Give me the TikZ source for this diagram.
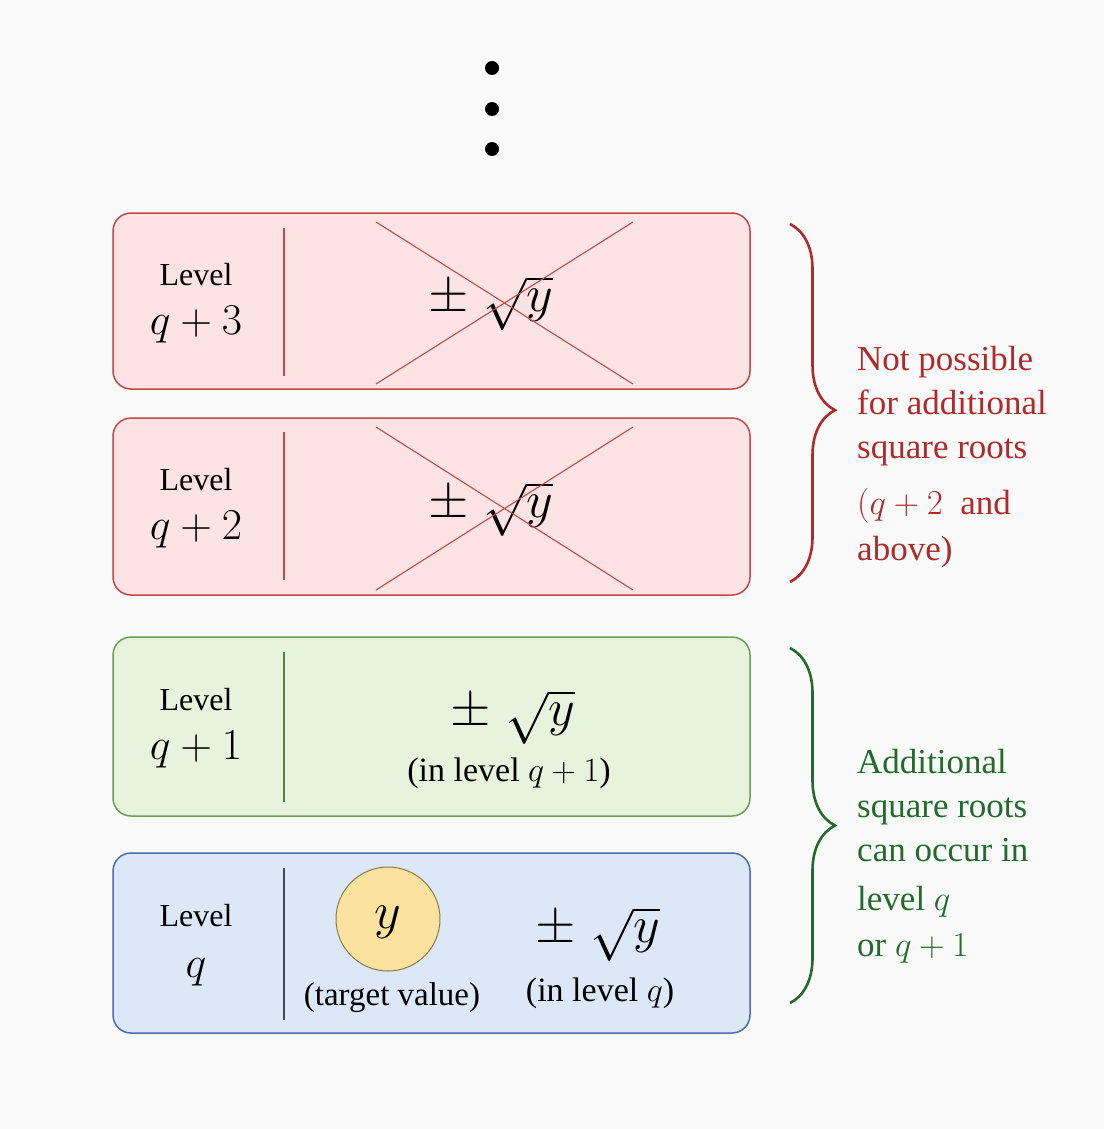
\RequirePackage{fix-cm}
\documentclass[tikz,border=0pt]{standalone}
\usepackage[no-math]{fontspec}
\setmainfont{Liberation Serif}
\usetikzlibrary{decorations.pathreplacing}
\definecolor{bgc}{HTML}{FAFAFA}
\definecolor{redfill}{HTML}{FDE3E3}
\definecolor{redline}{HTML}{BE4A4A}
\definecolor{redtext}{HTML}{B02A2A}
\definecolor{greenfill}{HTML}{E7F3DD}
\definecolor{greenline}{HTML}{6E9E56}
\definecolor{greentext}{HTML}{236B2C}
\definecolor{bluefill}{HTML}{DCE8F7}
\definecolor{blueline}{HTML}{4A6CB0}
\definecolor{bluediv}{HTML}{3E4A66}
\definecolor{goldfill}{HTML}{FBE29E}
\definecolor{goldline}{HTML}{8C7A45}
\begin{document}
\begin{tikzpicture}[x=1pt,y=-1pt,
  lvlbox/.style={draw, rounded corners=18pt, line width=1.5pt, minimum width=637pt, inner sep=0pt},
  redbox/.style={lvlbox, draw=redline, fill=redfill},
  greenbox/.style={lvlbox, draw=greenline, fill=greenfill},
  bluebox/.style={lvlbox, draw=blueline, fill=bluefill},
  divider/.style={line width=1.2pt},
  crossline/.style={draw=redline, line width=1.1pt},
  lbltext/.style={inner sep=0pt, font=\fontsize{32}{38}\selectfont},
  lblmath/.style={inner sep=0pt, font=\fontsize{44}{52}\selectfont},
  bigmath/.style={inner sep=0pt, font=\fontsize{52}{60}\selectfont},
  subtext/.style={inner sep=0pt, font=\fontsize{34}{40}\selectfont},
  sidetext/.style={inner sep=0pt, align=left, anchor=north west, font=\fontsize{35}{44}\selectfont},
  bracestyle/.style={decorate, decoration={brace, amplitude=45pt}, line width=2.6pt},
  dotstyle/.style={circle, fill=black, inner sep=0pt, minimum size=14pt}
]
\fill[bgc] (0,0) rectangle (1104,1129);
\useasboundingbox (0,0) rectangle (1104,1129);

% vertical dots
\node[dotstyle] (d1) at (492,68) {};
\node[dotstyle] (d2) at (492,109) {};
\node[dotstyle] (d3) at (492,149) {};

% boxes
\node[redbox, minimum height=176pt] (b3) at (431.5,301) {};
\node[redbox, minimum height=177pt] (b2) at (431.5,506.5) {};
\node[greenbox, minimum height=179pt] (b1) at (431.5,726.5) {};
\node[bluebox, minimum height=180pt] (b0) at (431.5,943) {};

% dividers
\draw[divider, draw=redline] (284,228) -- (284,376);
\draw[divider, draw=redline] (284,432) -- (284,580);
\draw[divider, draw=greenline!80!black] (284,652) -- (284,802);
\draw[divider, draw=bluediv] (284,868) -- (284,1020);

% level labels
\node[lbltext] (l3) at (196,275) {Level};
\node[lblmath] (m3) at (196,325) {$q+3$};
\node[lbltext] (l2) at (196,480) {Level};
\node[lblmath] (m2) at (196,530) {$q+2$};
\node[lbltext] (l1) at (196,700) {Level};
\node[lblmath] (m1) at (196,750) {$q+1$};
\node[lbltext] (l0) at (196,916) {Level};
\node[lblmath] (m0) at (196,972) {$q$};

% crossed-out roots
\node[bigmath] (r3) at (491,303) {$\pm\;\sqrt{y}$};
\draw[crossline] (376,222) -- (633,384);
\draw[crossline] (376,384) -- (633,222);
\node[bigmath] (r2) at (491,509) {$\pm\;\sqrt{y}$};
\draw[crossline] (376,427) -- (633,590);
\draw[crossline] (376,590) -- (633,427);

% level q+1
\node[bigmath] (r1) at (513,717) {$\pm\;\sqrt{y}$};
\node[subtext] (s1) at (509,773) {(in level $q+1$)};

% level q
\node[circle, draw=goldline, line width=1pt, fill=goldfill, minimum size=104pt, inner sep=0pt] (tv) at (388,919) {};
\node[bigmath] (yv) at ([yshift=-3pt]tv.center) {$y$};
\node[subtext, font=\fontsize{33}{40}\selectfont] (s0a) at (392,998) {(target value)};
\node[bigmath] (r0) at (598,934) {$\pm\;\sqrt{y}$};
\node[subtext] (s0b) at (600,993) {(in level $q$)};

% braces
\draw[bracestyle, decoration={aspect=0.52}, draw=redtext] (790,224) -- (790,582);
\draw[bracestyle, draw=greentext] (790,648) -- (790,1003);

% side texts
\node[sidetext, text=redtext] (t1) at (857,346) {Not possible\\for additional\\square roots\\[12pt]$(q+2$~~and\\[2pt]above)};
\node[sidetext, text=greentext] (t2) at (857,749) {Additional\\square roots\\can occur in\\[5pt]level $q$\\[2pt]or $q+1$};
\end{tikzpicture}
\end{document}
